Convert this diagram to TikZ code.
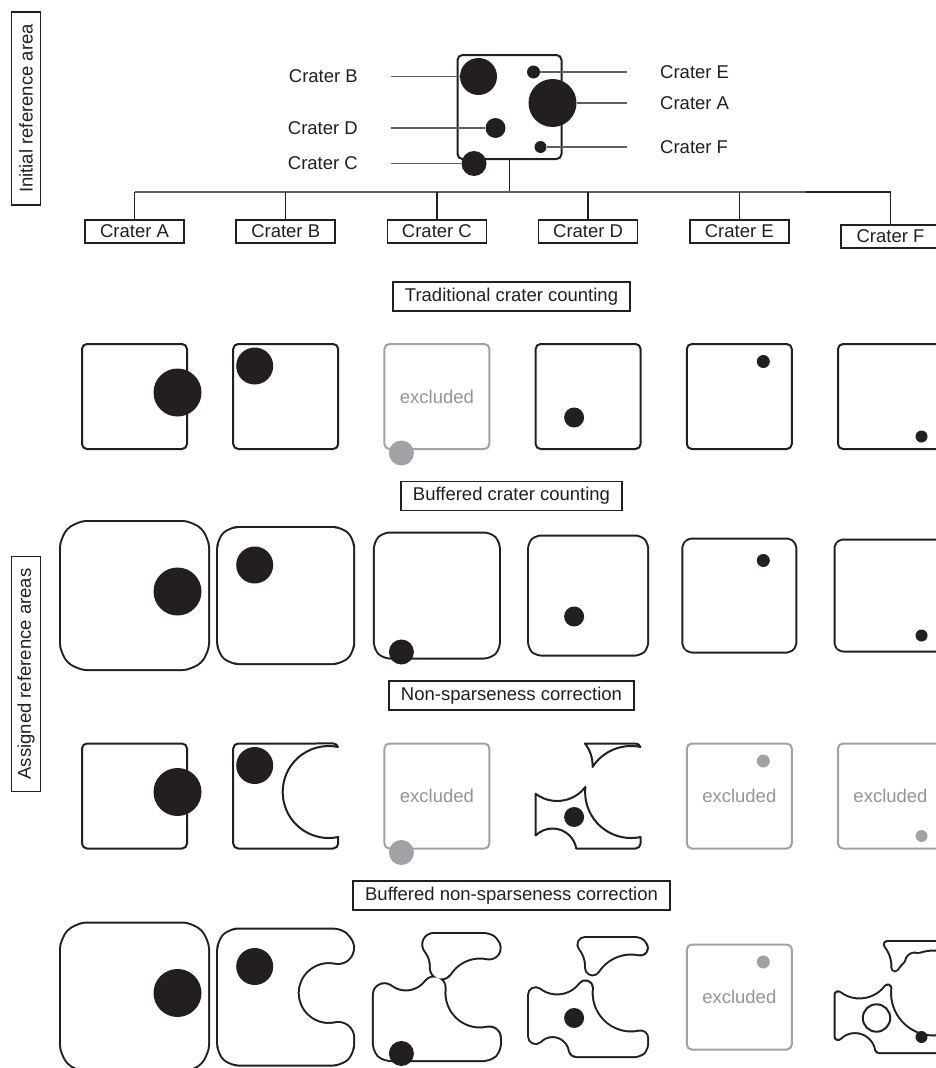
\documentclass[tikz,border=0pt]{standalone}
\usepackage{fontspec}
\setmainfont{Liberation Sans}
\definecolor{ink}{RGB}{35,31,32}
\definecolor{exgray}{RGB}{160,162,165}
\definecolor{extext}{RGB}{147,149,152}
\definecolor{wire}{RGB}{95,95,95}

% Reference square (half side 52.5, corner radius 5), centred on the origin
\def\Qpath{(-47.5,-52.5) -- (47.5,-52.5) arc[start angle=-90,end angle=0,radius=5] -- (52.5,47.5) arc[start angle=0,end angle=90,radius=5] -- (-47.5,52.5) arc[start angle=90,end angle=180,radius=5] -- (-52.5,-47.5) arc[start angle=180,end angle=270,radius=5] -- cycle}
% Square minus the exclusion disc of crater A
\def\SBpath{(-47.5,-52.5) -- (47.5,-52.5) arc[start angle=-90,end angle=0,radius=5] -- (52.5,-41.01) arc[start angle=-78.08,end angle=-281.65,radius=46] -- (52.29,49.06) arc[start angle=18.04,end angle=90,radius=5] -- (-47.5,52.5) arc[start angle=90,end angle=180,radius=5] -- (-52.5,-47.5) arc[start angle=180,end angle=270,radius=5] -- cycle}
% Upper piece left between the discs of A and B
\def\STop{(4.46,29.13) arc[start angle=-2.21,end angle=38.29,radius=35.5] -- (47.5,52.5) arc[start angle=90,end angle=18.04,radius=5] -- (52.29,49.06) arc[start angle=78.35,end angle=146.89,radius=46] -- cycle}
% Same upper piece, also cut by the disc of E
\def\STopF{(4.46,29.13) arc[start angle=-2.21,end angle=38.29,radius=35.5] -- (47.5,52.5) arc[start angle=90,end angle=18.04,radius=5] -- (52.29,49.06) arc[start angle=78.35,end angle=109.25,radius=46] -- (27.84,47.42) arc[start angle=72.8,end angle=170.2,radius=13] -- (11.18,37.22) arc[start angle=133.77,end angle=146.89,radius=46] -- cycle}
% Lower piece, cut by A and B
\def\SBotC{(-2.72,9.05) arc[start angle=-37.18,end angle=-127.28,radius=35.5] -- (-52.5,-47.5) arc[start angle=180,end angle=270,radius=5] -- (47.5,-52.5) arc[start angle=-90,end angle=0,radius=5] -- (52.5,-41.01) arc[start angle=-78.08,end angle=-186.30,radius=46] -- cycle}
% Lower piece, cut by A, B and C
\def\SBotD{(-2.72,9.05) arc[start angle=-37.18,end angle=-127.28,radius=35.5] -- (-52.5,-39.56) arc[start angle=135.07,end angle=9.60,radius=24] -- (47.5,-52.5) arc[start angle=-90,end angle=0,radius=5] -- (52.5,-41.01) arc[start angle=-78.08,end angle=-186.30,radius=46] -- cycle}

% Outline of a region grown by a buffer #1 (pt): thick black, then thinner white
\newcommand{\bufferedshape}[2]{%
  \pgfmathsetmacro{\bwout}{2*#1+2}%
  \pgfmathsetmacro{\bwin}{2*#1-2}%
  \path[fill=ink, draw=ink, line width=\bwout pt, line join=round] #2;%
  \path[fill=white, draw=white, line width=\bwin pt, line join=round] #2;%
}

\begin{document}
\begin{tikzpicture}[x=1pt,y=1pt,
  lbl/.style={font=\fontsize{18.5}{22}\selectfont, text=ink},
  tagbox/.style={lbl, draw=ink, line width=1.6pt, fill=white, inner xsep=12pt, inner ysep=0pt, minimum height=29pt},
  treebox/.style={lbl, draw=ink, line width=1.6pt, fill=white, minimum width=99pt, minimum height=23.5pt, inner sep=0pt},
  crater/.style={circle, fill=ink, draw=none, inner sep=0pt},
  gcrater/.style={circle, fill=exgray, draw=none, inner sep=0pt},
  rimline/.style={draw=ink, line width=2pt, line join=round},
  exbox/.style={draw=exgray, line width=2pt, rounded corners=5pt, fill=white},
  extxt/.style={font=\fontsize{18.5}{22}\selectfont, text=extext},
  leader/.style={draw=wire, line width=1.2pt},
  branchline/.style={draw=ink, line width=1.5pt},
  sizeA/.style={minimum size=48pt},
  sizeB/.style={minimum size=37pt},
  sizeC/.style={minimum size=25pt},
  sizeD/.style={minimum size=20pt},
  sizeE/.style={minimum size=13pt},
  sizeF/.style={minimum size=12pt},
]
\path[use as bounding box] (0,0) rectangle (936,-1068);
\fill[white] (0,0) rectangle (936,-1068);
\clip (0,0) rectangle (936,-1068);

% ---------- initial reference area ----------
\node[draw=ink, line width=2pt, rounded corners=5pt, minimum size=104pt, inner sep=0pt] (init) at (509.5,-107) {};
\node[crater, sizeA] (iA) at (552.5,-103) {};
\node[crater, sizeB] (iB) at (478.5,-76.5) {};
\node[crater, sizeC] (iC) at (474,-163.5) {};
\node[crater, sizeD] (iD) at (495.5,-128) {};
\node[crater, sizeE] (iE) at (533.5,-72) {};
\node[crater, sizeF] (iF) at (540.5,-147) {};

\node[lbl, anchor=east, inner sep=0pt] (lB) at (358,-76.5) {Crater B};
\node[lbl, anchor=east, inner sep=0pt] (lD) at (358,-128) {Crater D};
\node[lbl, anchor=east, inner sep=0pt] (lC) at (358,-163.5) {Crater C};
\node[lbl, anchor=west, inner sep=0pt] (lE) at (660,-72) {Crater E};
\node[lbl, anchor=west, inner sep=0pt] (lA) at (660,-103) {Crater A};
\node[lbl, anchor=west, inner sep=0pt] (lF) at (660,-147) {Crater F};

\draw[leader] ([xshift=33pt]lB.east) -- (iB.west);
\draw[leader] ([xshift=33pt]lD.east) -- (iD.west);
\draw[leader] ([xshift=33pt]lC.east) -- (iC.west);
\draw[leader] (iE.east) -- ([xshift=-33pt]lE.west);
\draw[leader] (iA.east) -- ([xshift=-33pt]lA.west);
\draw[leader] (iF.east) -- ([xshift=-33pt]lF.west);

% ---------- split into one box per crater ----------
\node[treebox] (tA) at (134.5,-231.5) {Crater A};
\node[treebox] (tB) at (285.7,-231.5) {Crater B};
\node[treebox] (tC) at (436.9,-231.5) {Crater C};
\node[treebox] (tD) at (588.1,-231.5) {Crater D};
\node[treebox] (tE) at (739.3,-231.5) {Crater E};
\node[treebox] (tF) at (890.5,-236.5) {Crater F};

\coordinate (bus) at ([yshift=-32pt]init.south);
\coordinate (jA) at (tA.north |- bus);
\coordinate (jF) at (tF.north |- bus);
\coordinate (busR) at (806,0 |- bus);
\draw[branchline] (init.south) -- (bus);
\draw[leader] (jA) -- (jF);
\draw[branchline, line width=1.8pt] (busR) -- (jF);
\foreach \t in {tA,tB,tC,tD,tE,tF}{
  \draw[branchline] (\t.north |- bus) -- (\t.north);
}

% ---------- side labels ----------
\node[tagbox, rotate=90] (sideInit) at (26,-108.5) {Initial reference area};
\node[tagbox, rotate=90] (sideAssigned) at (26,-674) {Assigned reference areas};

% ---------- row 1: traditional crater counting ----------
\begin{scope}[shift={(134.5,-396.5)}]
  \draw[rimline, fill=white] \Qpath;
  \node[crater, sizeA] (r1A) at (43,4) {};
\end{scope}
\begin{scope}[shift={(285.7,-396.5)}]
  \draw[rimline, fill=white] \Qpath;
  \node[crater, sizeB] (r1B) at (-31,30.5) {};
\end{scope}
\begin{scope}[shift={(436.9,-396.5)}]
  \draw[exbox] (-52.5,-52.5) rectangle (52.5,52.5);
  \node[extxt] (r1Cx) at (0,0) {excluded};
  \node[gcrater, sizeC] (r1C) at (-35.5,-56.5) {};
\end{scope}
\begin{scope}[shift={(588.1,-396.5)}]
  \draw[rimline, fill=white] \Qpath;
  \node[crater, sizeD] (r1D) at (-14,-21) {};
\end{scope}
\begin{scope}[shift={(739.3,-396.5)}]
  \draw[rimline, fill=white] \Qpath;
  \node[crater, sizeE] (r1E) at (24,35) {};
\end{scope}
\begin{scope}[shift={(890.5,-396.5)}]
  \draw[rimline, fill=white] \Qpath;
  \node[crater, sizeF] (r1F) at (31,-40) {};
\end{scope}

% ---------- row 2: buffered crater counting ----------
\begin{scope}[shift={(134.5,-595.5)}]
  \bufferedshape{22}{\Qpath}
  \node[crater, sizeA] (r2A) at (43,4) {};
\end{scope}
\begin{scope}[shift={(285.7,-595.5)}]
  \bufferedshape{16}{\Qpath}
  \node[crater, sizeB] (r2B) at (-31,30.5) {};
\end{scope}
\begin{scope}[shift={(436.9,-595.5)}]
  \bufferedshape{10.5}{\Qpath}
  \node[crater, sizeC] (r2C) at (-35.5,-56.5) {};
\end{scope}
\begin{scope}[shift={(588.1,-595.5)}]
  \bufferedshape{7.5}{\Qpath}
  \node[crater, sizeD] (r2D) at (-14,-21) {};
\end{scope}
\begin{scope}[shift={(739.3,-595.5)}]
  \bufferedshape{4.5}{\Qpath}
  \node[crater, sizeE] (r2E) at (24,35) {};
\end{scope}
\begin{scope}[shift={(890.5,-595.5)}]
  \bufferedshape{3.5}{\Qpath}
  \node[crater, sizeF] (r2F) at (31,-40) {};
\end{scope}

% ---------- row 3: non-sparseness correction ----------
\begin{scope}[shift={(134.5,-796)}]
  \draw[rimline, fill=white] \Qpath;
  \node[crater, sizeA] (r3A) at (43,4) {};
\end{scope}
\begin{scope}[shift={(285.7,-796)}]
  \draw[rimline, fill=white] \SBpath;
  \node[crater, sizeB] (r3B) at (-31,30.5) {};
\end{scope}
\begin{scope}[shift={(436.9,-796)}]
  \draw[exbox] (-52.5,-52.5) rectangle (52.5,52.5);
  \node[extxt] (r3Cx) at (0,0) {excluded};
  \node[gcrater, sizeC] (r3C) at (-35.5,-56.5) {};
\end{scope}
\begin{scope}[shift={(588.1,-796)}]
  \draw[rimline, fill=white] \STop \SBotD;
  \node[crater, sizeD] (r3D) at (-14,-21) {};
\end{scope}
\begin{scope}[shift={(739.3,-796)}]
  \draw[exbox] (-52.5,-52.5) rectangle (52.5,52.5);
  \node[extxt] (r3Ex) at (0,0) {excluded};
  \node[gcrater, sizeE] (r3E) at (24,35) {};
\end{scope}
\begin{scope}[shift={(890.5,-796)}]
  \draw[exbox] (-52.5,-52.5) rectangle (52.5,52.5);
  \node[extxt] (r3Fx) at (0,0) {excluded};
  \node[gcrater, sizeF] (r3F) at (31,-40) {};
\end{scope}

% ---------- row 4: buffered non-sparseness correction ----------
\begin{scope}[shift={(134.5,-997)}]
  \bufferedshape{22}{\Qpath}
  \node[crater, sizeA] (r4A) at (43,4) {};
\end{scope}
\begin{scope}[shift={(285.7,-997)}]
  \bufferedshape{16}{\SBpath}
  \node[crater, sizeB] (r4B) at (-31,30.5) {};
\end{scope}
\begin{scope}[shift={(436.9,-997)}]
  \bufferedshape{11.5}{\STop \SBotC}
  \node[crater, sizeC] (r4C) at (-35.5,-56.5) {};
\end{scope}
\begin{scope}[shift={(588.1,-997)}]
  \bufferedshape{7.5}{\STop \SBotD}
  \node[crater, sizeD] (r4D) at (-14,-21) {};
\end{scope}
\begin{scope}[shift={(739.3,-997)}]
  \draw[exbox] (-52.5,-52.5) rectangle (52.5,52.5);
  \node[extxt] (r4Ex) at (0,0) {excluded};
  \node[gcrater, sizeE] (r4E) at (24,35) {};
\end{scope}
\begin{scope}[shift={(890.5,-997)}]
  \bufferedshape{3.5}{\STopF \SBotD}
  \draw[rimline] (-14,-21) circle[radius=13.7];
  \node[crater, sizeF] (r4F) at (31,-40) {};
\end{scope}

% ---------- method labels ----------
\node[tagbox] (mTrad) at (511.5,-296.5) {Traditional crater counting};
\node[tagbox] (mBuf) at (511.5,-496) {Buffered crater counting};
\node[tagbox] (mNsc) at (511.5,-695.5) {Non-sparseness correction};
\node[tagbox] (mBnsc) at (511.5,-895.5) {Buffered non-sparseness correction};
\end{tikzpicture}
\end{document}
